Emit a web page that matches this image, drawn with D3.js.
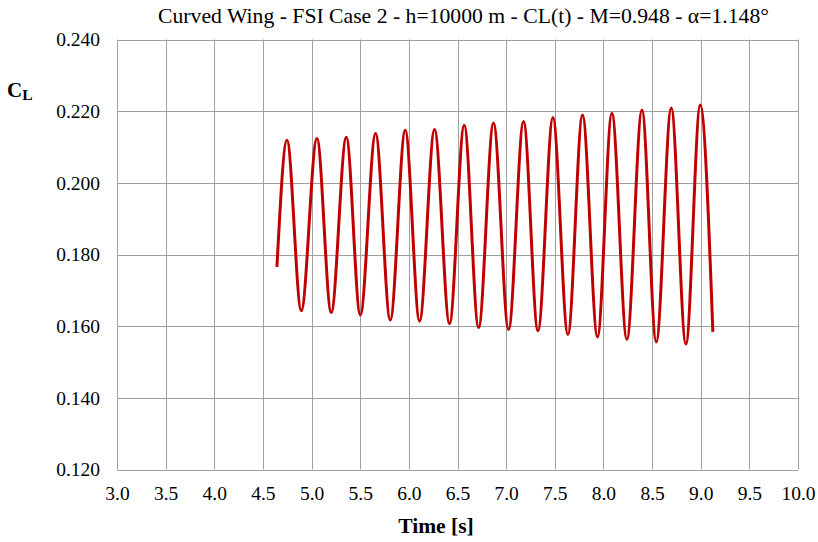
<!DOCTYPE html>
<html><head><meta charset="utf-8">
<script src="https://cdn.jsdelivr.net/npm/d3@7"></script>
<style>
body{margin:0;background:#fff;}
svg text{font-family:"Liberation Serif","Times New Roman",Times,"DejaVu Serif",serif !important;fill:#000;}
</style></head>
<body><svg id="chart" width="818" height="542"></svg>
<script>
const chartTitle = "Curved Wing - FSI Case 2 - h=10000 m - CL(t) - M=0.948 - α=1.148°";
const xTicks = [3.0,3.5,4.0,4.5,5.0,5.5,6.0,6.5,7.0,7.5,8.0,8.5,9.0,9.5,10.0];
const yTicks = [0.120,0.140,0.160,0.180,0.200,0.220,0.240];
// time samples (start, extrema, end)
const timeS = [4.644,4.747,4.894,5.055,5.202,5.357,5.501,5.658,5.809,5.963,6.110,6.264,6.418,6.569,6.717,6.870,7.025,7.179,7.327,7.481,7.635,7.785,7.939,8.087,8.241,8.396,8.543,8.697,8.848,8.995,9.125];
const clValues = [0.1765,0.2119,0.1643,0.2124,0.1638,0.2127,0.1631,0.2138,0.1617,0.2147,0.1614,0.2149,0.1607,0.2161,0.1596,0.2167,0.1591,0.2171,0.1587,0.2182,0.1577,0.2189,0.1570,0.2194,0.1563,0.2203,0.1556,0.2209,0.1550,0.2217,0.1584];

const svg = d3.select("#chart");
const L = 117, R = 798, T = 39.5, B = 469.5;
const x = d3.scaleLinear().domain([3,10]).range([L,R]);
const y = d3.scaleLinear().domain([0.12,0.24]).range([B,T]);

// grid
svg.append("g").selectAll("line").data(xTicks).join("line")
  .attr("x1",d=>Math.round(x(d))+0.5).attr("x2",d=>Math.round(x(d))+0.5)
  .attr("y1",T).attr("y2",B).attr("stroke","#a0a0a0").attr("stroke-width",1);
svg.append("g").selectAll("line").data(yTicks).join("line")
  .attr("y1",d=>Math.round(y(d))+0.5).attr("y2",d=>Math.round(y(d))+0.5)
  .attr("x1",L).attr("x2",R).attr("stroke","#a0a0a0").attr("stroke-width",1);

// axes (labels only)
const xAxis = d3.axisBottom(x).tickValues(xTicks).tickFormat(d3.format(".1f")).tickSize(0).tickPadding(0);
const gx = svg.append("g").attr("transform",`translate(0,${B})`).call(xAxis).attr("font-family",null).attr("font-size",null);
gx.select(".domain").remove();
gx.selectAll("text").attr("dy",null).attr("y",30.5).style("font-size","19.5px");

const yAxis = d3.axisLeft(y).tickValues(yTicks).tickFormat(d3.format(".3f")).tickSize(0).tickPadding(0);
const gy = svg.append("g").attr("transform",`translate(${L},0)`).call(yAxis).attr("font-family",null).attr("font-size",null);
gy.select(".domain").remove();
gy.selectAll("text").attr("x",-17).attr("dy","0.33em").style("font-size","19.5px");

// line
const pts = timeS.map((t,i)=>[t,clValues[i]]);
svg.append("path").datum(pts)
  .attr("d", d3.line().x(d=>x(d[0])).y(d=>y(d[1])).curve(d3.curveMonotoneX))
  .attr("fill","none").attr("stroke","#c00000").attr("stroke-width",3).attr("stroke-linejoin","round");

// title & labels
svg.append("text").attr("x",463.5).attr("y",23).attr("text-anchor","middle").style("font-size","21.7px").text(chartTitle);
svg.append("text").attr("x",436).attr("y",533).attr("text-anchor","middle").style("font-size","21.5px").style("font-weight","bold").text("Time [s]");
const cl = svg.append("text").attr("x",7).attr("y",97).style("font-size","21px").style("font-weight","bold");
cl.append("tspan").text("C");
cl.append("tspan").attr("dy",2.5).style("font-size","15.5px").text("L");
</script></body></html>
